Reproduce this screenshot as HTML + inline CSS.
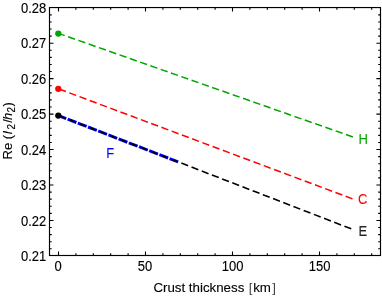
<!DOCTYPE html><html><head><meta charset="utf-8"><style>html,body{margin:0;padding:0;background:#fff;}svg{display:block;will-change:transform;font-family:"Liberation Sans",sans-serif;}</style></head><body>
<svg width="382" height="296" viewBox="0 0 382 296">
<rect width="382" height="296" fill="#fff"/>
<line x1="58.50" y1="115.59" x2="178.12" y2="161.87" stroke="#0000ff" stroke-width="3" stroke-dasharray="9.4 1.53" stroke-dashoffset="1.15"/>
<line x1="58.50" y1="33.41" x2="353.08" y2="137.02" stroke="#00a600" stroke-width="1.5" stroke-dasharray="7.3 3.61" stroke-dashoffset="0.75"/>
<line x1="58.50" y1="88.79" x2="353.08" y2="199.07" stroke="#ff0000" stroke-width="1.5" stroke-dasharray="7.3 3.63" stroke-dashoffset="10.33"/>
<line x1="58.50" y1="115.59" x2="353.08" y2="229.55" stroke="#000" stroke-width="1.6" stroke-dasharray="7.3 3.63" stroke-dashoffset="10.38"/>
<circle cx="58.30" cy="33.61" r="3.15" fill="#00a600"/>
<circle cx="58.30" cy="88.79" r="3.15" fill="#ff0000"/>
<circle cx="58.30" cy="115.59" r="3.15" fill="#000"/>
<rect x="49.5" y="7.55" width="331.0" height="247.95" fill="none" stroke="#000" stroke-width="1.15"/>
<path d="M58.50 255.5v-4.0M58.50 7.55v4.0M75.90 255.5v-2.2M75.90 7.55v2.2M93.30 255.5v-2.2M93.30 7.55v2.2M110.70 255.5v-2.2M110.70 7.55v2.2M128.10 255.5v-2.2M128.10 7.55v2.2M145.50 255.5v-4.0M145.50 7.55v4.0M162.90 255.5v-2.2M162.90 7.55v2.2M180.30 255.5v-2.2M180.30 7.55v2.2M197.70 255.5v-2.2M197.70 7.55v2.2M215.10 255.5v-2.2M215.10 7.55v2.2M232.50 255.5v-4.0M232.50 7.55v4.0M249.90 255.5v-2.2M249.90 7.55v2.2M267.30 255.5v-2.2M267.30 7.55v2.2M284.70 255.5v-2.2M284.70 7.55v2.2M302.10 255.5v-2.2M302.10 7.55v2.2M319.50 255.5v-4.0M319.50 7.55v4.0M336.90 255.5v-2.2M336.90 7.55v2.2M354.30 255.5v-2.2M354.30 7.55v2.2M371.70 255.5v-2.2M371.70 7.55v2.2M49.5 248.80h2.2M380.5 248.80h-2.3000000000000003M49.5 241.71h2.2M380.5 241.71h-2.3000000000000003M49.5 234.62h2.2M380.5 234.62h-2.3000000000000003M49.5 227.53h2.2M380.5 227.53h-2.3000000000000003M49.5 220.44h4.0M380.5 220.44h-4.1M49.5 213.35h2.2M380.5 213.35h-2.3000000000000003M49.5 206.26h2.2M380.5 206.26h-2.3000000000000003M49.5 199.17h2.2M380.5 199.17h-2.3000000000000003M49.5 192.08h2.2M380.5 192.08h-2.3000000000000003M49.5 184.99h4.0M380.5 184.99h-4.1M49.5 177.90h2.2M380.5 177.90h-2.3000000000000003M49.5 170.81h2.2M380.5 170.81h-2.3000000000000003M49.5 163.72h2.2M380.5 163.72h-2.3000000000000003M49.5 156.63h2.2M380.5 156.63h-2.3000000000000003M49.5 149.54h4.0M380.5 149.54h-4.1M49.5 142.45h2.2M380.5 142.45h-2.3000000000000003M49.5 135.36h2.2M380.5 135.36h-2.3000000000000003M49.5 128.27h2.2M380.5 128.27h-2.3000000000000003M49.5 121.18h2.2M380.5 121.18h-2.3000000000000003M49.5 114.09h4.0M380.5 114.09h-4.1M49.5 107.00h2.2M380.5 107.00h-2.3000000000000003M49.5 99.91h2.2M380.5 99.91h-2.3000000000000003M49.5 92.83h2.2M380.5 92.83h-2.3000000000000003M49.5 85.74h2.2M380.5 85.74h-2.3000000000000003M49.5 78.65h4.0M380.5 78.65h-4.1M49.5 71.56h2.2M380.5 71.56h-2.3000000000000003M49.5 64.47h2.2M380.5 64.47h-2.3000000000000003M49.5 57.38h2.2M380.5 57.38h-2.3000000000000003M49.5 50.29h2.2M380.5 50.29h-2.3000000000000003M49.5 43.20h4.0M380.5 43.20h-4.1M49.5 36.11h2.2M380.5 36.11h-2.3000000000000003M49.5 29.02h2.2M380.5 29.02h-2.3000000000000003M49.5 21.93h2.2M380.5 21.93h-2.3000000000000003M49.5 14.84h2.2M380.5 14.84h-2.3000000000000003" stroke="#000" stroke-width="1.1" fill="none"/>
<text transform="translate(46.3,260.99) scale(1,1.06)" font-size="13" text-anchor="end" fill="#000" stroke="#000" stroke-width="0.12" >0.21</text>
<text transform="translate(46.3,225.54) scale(1,1.06)" font-size="13" text-anchor="end" fill="#000" stroke="#000" stroke-width="0.12" >0.22</text>
<text transform="translate(46.3,190.09) scale(1,1.06)" font-size="13" text-anchor="end" fill="#000" stroke="#000" stroke-width="0.12" >0.23</text>
<text transform="translate(46.3,154.64) scale(1,1.06)" font-size="13" text-anchor="end" fill="#000" stroke="#000" stroke-width="0.12" >0.24</text>
<text transform="translate(46.3,119.19) scale(1,1.06)" font-size="13" text-anchor="end" fill="#000" stroke="#000" stroke-width="0.12" >0.25</text>
<text transform="translate(46.3,83.75) scale(1,1.06)" font-size="13" text-anchor="end" fill="#000" stroke="#000" stroke-width="0.12" >0.26</text>
<text transform="translate(46.3,48.30) scale(1,1.06)" font-size="13" text-anchor="end" fill="#000" stroke="#000" stroke-width="0.12" >0.27</text>
<text transform="translate(46.3,12.85) scale(1,1.06)" font-size="13" text-anchor="end" fill="#000" stroke="#000" stroke-width="0.12" >0.28</text>
<text transform="translate(58.15,270.6) scale(1,1.06)" font-size="13" text-anchor="middle" fill="#000" stroke="#000" stroke-width="0.12" >0</text>
<text transform="translate(145.00,270.6) scale(1,1.06)" font-size="13" text-anchor="middle" fill="#000" stroke="#000" stroke-width="0.12" >50</text>
<text transform="translate(232.70,270.6) scale(1,1.06)" font-size="13" text-anchor="middle" fill="#000" stroke="#000" stroke-width="0.12" >100</text>
<text transform="translate(319.70,270.6) scale(1,1.06)" font-size="13" text-anchor="middle" fill="#000" stroke="#000" stroke-width="0.12" >150</text>
<text transform="translate(153.4,292.2) scale(1,1.0)" font-size="13.3" text-anchor="start" fill="#000" stroke="#000" stroke-width="0.12" >Crust thickness <tspan fill="#444" stroke="none" dx="0.8">[</tspan><tspan dx="0.7">km</tspan><tspan fill="#444" stroke="none" dx="1.4">]</tspan></text>
<text transform="translate(12.1,159.4) rotate(-90)" font-size="13" text-anchor="start" fill="#000" stroke="#000" stroke-width="0.1">Re (<tspan font-style="italic" dx="0.6">l</tspan><tspan font-size="10" dy="2.6" dx="1.9">2</tspan><tspan dy="-2.6" dx="1.14">/</tspan><tspan font-style="italic" dx="-0.85">h</tspan><tspan font-size="10" dy="2.6" dx="0.15">2</tspan><tspan dy="-2.6" dx="0.44">)</tspan></text>
<text transform="translate(363.1,143.75) scale(1,1.1)" font-size="13" text-anchor="middle" fill="#00a600" stroke="#00a600" stroke-width="0.05" >H</text>
<text transform="translate(362.6,203.65) scale(1,1.1)" font-size="13" text-anchor="middle" fill="#ff0000" stroke="#ff0000" stroke-width="0.05" >C</text>
<text transform="translate(362.9,235.85) scale(1,1.1)" font-size="13" text-anchor="middle" fill="#222" stroke="#222" stroke-width="0.05" >E</text>
<text transform="translate(110.3,157.75) scale(1,1.1)" font-size="13" text-anchor="middle" fill="#0000ff" stroke="#0000ff" stroke-width="0.05" >F</text>
</svg></body></html>
